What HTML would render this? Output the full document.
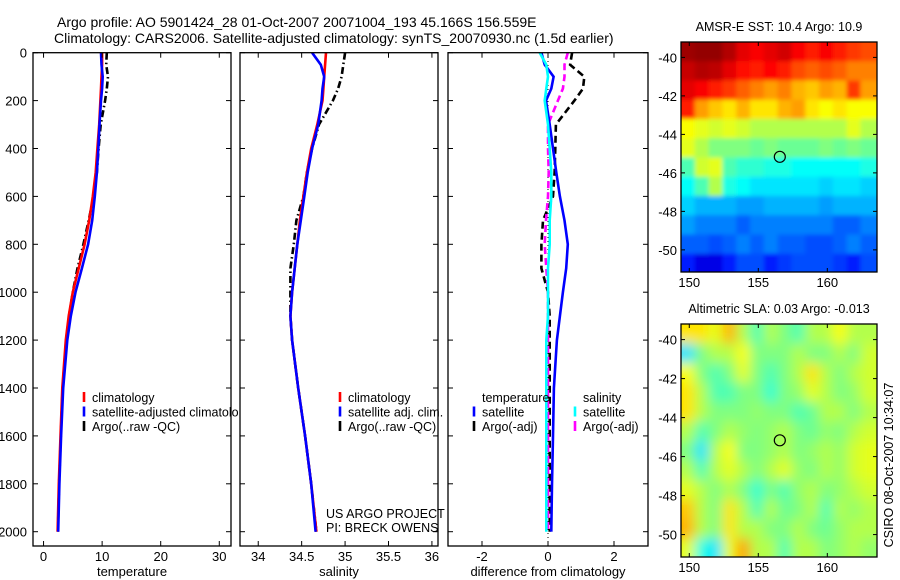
<!DOCTYPE html>
<html><head><meta charset="utf-8"><style>
body{margin:0;background:#fff}
svg{display:block;font-family:"Liberation Sans",sans-serif}
</style></head><body>
<svg id="fig" width="900" height="580" viewBox="0 0 900 580">
<defs>
<clipPath id="c1"><rect x="33" y="53" width="198" height="493"/></clipPath>
<clipPath id="c2"><rect x="240" y="53" width="198" height="493"/></clipPath>
<clipPath id="c3"><rect x="448" y="53" width="200" height="493"/></clipPath>
<clipPath id="m1"><rect x="681" y="42" width="196" height="230"/></clipPath>
<clipPath id="m2"><rect x="681" y="324" width="196" height="233"/></clipPath>
<clipPath id="leg1"><rect x="0" y="0" width="239" height="580"/></clipPath>
<filter id="bl" x="-10%" y="-10%" width="120%" height="120%"><feGaussianBlur stdDeviation="6"/></filter>
<filter id="bl2"><feGaussianBlur stdDeviation="2"/></filter>
</defs>
<text x="57" y="27" font-size="14">Argo profile: AO 5901424_28 01-Oct-2007 20071004_193 45.166S 156.559E</text>
<text x="54" y="43" font-size="14">Climatology: CARS2006. Satellite-adjusted climatology: synTS_20070930.nc (1.5d earlier)</text>
<g id="g"></g>
</svg>
<script>
// ---- data ----
const depths = [0,50,100,150,200,300,400,500,600,700,800,900,1000,1100,1200,1400,1600,1800,2000];
const tClim  = [10.0,10.0,9.9,9.8,9.7,9.5,9.2,8.9,8.4,7.8,7.0,6.0,5.0,4.3,3.8,3.2,2.9,2.6,2.4];
const tSat   = [9.8,9.9,10.1,10.0,9.8,9.55,9.35,9.1,8.75,8.3,7.6,6.55,5.45,4.65,4.05,3.35,3.0,2.7,2.5];
const tArgo  = [10.8,10.7,11.0,10.8,10.5,9.75,9.4,9.1,8.55,7.7,6.8,5.8,5.0,4.35,3.85,3.25,2.95,2.65,2.45];
const sClim  = [34.78,34.77,34.76,34.75,34.74,34.68,34.61,34.56,34.52,34.48,34.45,34.42,34.39,34.37,34.39,34.46,34.54,34.61,34.67];
const sSat   = [34.62,34.72,34.76,34.74,34.73,34.69,34.62,34.57,34.53,34.49,34.45,34.42,34.39,34.37,34.39,34.46,34.54,34.61,34.66];
const sArgo  = [35.0,34.98,34.96,34.92,34.86,34.70,34.62,34.56,34.52,34.44,34.41,34.37,34.37,34.37,34.39,34.46,34.54,34.61,34.67];
const dTsat  = [-0.2,-0.1,0.17,0.1,-0.06,0.05,0.15,0.25,0.36,0.5,0.6,0.55,0.45,0.36,0.27,0.18,0.15,0.12,0.1];
const dTargo = [0.73,0.67,1.1,1.06,0.8,0.24,0.22,0.2,0.15,-0.15,-0.2,-0.2,0.0,0.05,0.05,0.05,0.05,0.05,0.05];
const dSsat  = [-0.25,-0.05,0.0,-0.05,-0.1,0.0,0.05,0.1,0.1,0.05,0.05,0.0,0.0,0.0,-0.05,-0.05,-0.05,-0.05,-0.05];
const dSargo = [0.6,0.5,0.5,0.45,0.3,0.0,0.0,0.02,0.0,-0.06,-0.1,-0.05,0.0,0.0,0.0,0.0,0.0,0.0,0.0];
const depthTicks = [0,200,400,600,800,1000,1200,1400,1600,1800,2000];
const tTicks = [0,10,20,30];
const sTicks = [34,34.5,35,35.5,36];
const dTicks = [-2,0,2];
const sstLons = [149.9,150.9,151.9,152.9,153.9,154.9,155.9,156.9,157.9,158.9,159.9,160.9,161.9,162.9];
const sstLats = [-39.7,-40.7,-41.7,-42.7,-43.7,-44.7,-45.7,-46.7,-47.7,-48.7,-49.7,-50.7];
const sst = [
[.97,.98,.98,.95,.9,.88,.9,.92,.88,.85,.88,.85,.82,.8],
[.93,.95,.94,.9,.86,.85,.87,.85,.8,.78,.8,.78,.75,.75],
[.9,.88,.85,.82,.78,.75,.72,.75,.7,.68,.72,.7,.82,.72],
[.85,.72,.68,.65,.7,.65,.65,.7,.72,.65,.62,.65,.62,.62],
[.62,.6,.58,.6,.58,.55,.55,.55,.55,.55,.55,.55,.6,.55],
[.6,.55,.5,.5,.5,.48,.5,.48,.48,.48,.5,.48,.5,.48],
[.45,.58,.6,.45,.42,.42,.4,.4,.38,.38,.38,.38,.38,.4],
[.38,.45,.55,.4,.38,.35,.35,.35,.35,.35,.33,.35,.35,.33],
[.33,.3,.3,.3,.28,.28,.3,.3,.3,.3,.28,.3,.3,.3],
[.28,.25,.25,.25,.22,.25,.25,.25,.25,.25,.25,.22,.22,.25],
[.22,.22,.2,.22,.25,.22,.25,.22,.22,.2,.2,.22,.25,.22],
[.15,.1,.1,.15,.2,.2,.15,.18,.2,.2,.2,.18,.15,.2]];
const sla = [
[.65,.65,.6,.7,.55,.45,.55,.5,.45,.55,.55,.62,.55,.55],
[.35,.5,.55,.55,.62,.5,.5,.5,.55,.5,.5,.55,.5,.58],
[.62,.5,.45,.5,.6,.5,.45,.5,.55,.65,.55,.5,.55,.58],
[.65,.55,.45,.45,.5,.5,.42,.5,.52,.6,.55,.5,.52,.58],
[.65,.55,.5,.5,.5,.52,.5,.5,.45,.48,.55,.55,.5,.55],
[.55,.45,.5,.55,.52,.5,.52,.55,.5,.48,.52,.5,.55,.58],
[.5,.35,.55,.62,.5,.5,.52,.55,.5,.52,.55,.52,.58,.6],
[.55,.45,.55,.6,.55,.5,.55,.6,.52,.5,.55,.52,.58,.6],
[.6,.55,.5,.55,.5,.42,.5,.45,.52,.55,.5,.52,.55,.58],
[.68,.55,.5,.65,.55,.45,.55,.48,.5,.55,.45,.55,.52,.55],
[.7,.55,.5,.65,.55,.55,.5,.5,.55,.5,.48,.52,.55,.55],
[.6,.4,.35,.6,.72,.55,.55,.45,.55,.55,.5,.52,.55,.52]];
const latTicks = [-40,-42,-44,-46,-48,-50];
const lonTicks = [150,155,160];
const floatLon = 156.559, floatLat = -45.166;

// ---- helpers ----
const NS="http://www.w3.org/2000/svg";
const G=document.getElementById('g');
function el(tag,attrs,parent,txt){const e=document.createElementNS(NS,tag);for(const k in attrs)e.setAttribute(k,attrs[k]);if(txt!==undefined)e.textContent=txt;(parent||G).appendChild(e);return e;}
const yD=d=>52.7+d*0.2395;
const panels=[
 {x0:33,x1:231,lo:-1.8,hi:32,ticks:tTicks,label:'temperature',clip:'c1'},
 {x0:240,x1:438,lo:33.79,hi:36.07,ticks:sTicks,label:'salinity',clip:'c2'},
 {x0:448,x1:648,lo:-3.03,hi:3.03,ticks:dTicks,label:'difference from climatology',clip:'c3'}];
function xf(p){return v=>p.x0+(v-p.lo)/(p.hi-p.lo)*(p.x1-p.x0);}
function jet(v){v=Math.max(0,Math.min(1,v));const f=t=>Math.max(0,Math.min(1,1.5-Math.abs(4*v-t)));return `rgb(${Math.round(255*f(3))},${Math.round(255*f(2))},${Math.round(255*f(1))})`;}

panels.forEach((p,i)=>{
  const X=xf(p);
  const top=52.7,bot=546;
  const ax=el('g',{},G);
  
  
  p.g=el('g',{'clip-path':'url(#'+p.clip+')'},ax);
  p.ax=ax;
  el('rect',{x:p.x0,y:top,width:p.x1-p.x0,height:bot-top,fill:'none',stroke:'#000','stroke-width':1.3},ax);
  depthTicks.forEach(d=>{
    const y=yD(d);
    el('line',{x1:p.x0,x2:p.x0+5,y1:y,y2:y,stroke:'#000'},ax);
    el('line',{x1:p.x1-5,x2:p.x1,y1:y,y2:y,stroke:'#000'},ax);
    if(i===0){const t=el('text',{x:27,y:y+5,'font-size':13,'text-anchor':'end'},ax,String(d));
      }
  });
  p.ticks.forEach(v=>{
    const x=X(v);
    el('line',{x1:x,x2:x,y1:top,y2:top+5,stroke:'#000'},ax);
    el('line',{x1:x,x2:x,y1:bot-5,y2:bot,stroke:'#000'},ax);
    const t=el('text',{x:x,y:561,'font-size':13,'text-anchor':'middle'},ax,String(v));
    
  });
  const lab=el('text',{x:(p.x0+p.x1)/2,y:576,'font-size':13,'text-anchor':'middle'},ax,p.label);
  
});
function line(p,vals,color,dash,name){
  const X=xf(p);
  const pts=vals.map((v,k)=>X(v).toFixed(1)+','+yD(depths[k]).toFixed(1)).join(' ');
  const a={points:pts,fill:'none',stroke:color,'stroke-width':2.6};
  if(dash)a['stroke-dasharray']=dash;
  const l=el('polyline',a,p.g);
  
}
const DD='7,3,1.5,3';
line(panels[0],tArgo,'#000',DD,'temp-argo-line');
line(panels[0],tClim,'#f00',null,'temp-climatology-line');
line(panels[0],tSat,'#00f',null,'temp-satellite-line');
line(panels[1],sArgo,'#000',DD,'sal-argo-line');
line(panels[1],sClim,'#f00',null,'sal-climatology-line');
line(panels[1],sSat,'#00f',null,'sal-satellite-line');
{const X=xf(panels[2]);const z=el('line',{x1:X(0),x2:X(0),y1:53,y2:546,stroke:'#000','stroke-dasharray':'1,3'},panels[2].g);
 }
line(panels[2],dTargo,'#000','7,4','diff-temp-argo-line');
line(panels[2],dSargo,'#f0f','7,4','diff-sal-argo-line');
line(panels[2],dTsat,'#00f',null,'diff-temp-satellite-line');
line(panels[2],dSsat,'#0ff',null,'diff-sal-satellite-line');

function legend(items,mx,y0,parent,name){
  const g=el('g',{},parent);
  
  items.forEach((it,k)=>{
    const y=y0+k*14.5;
    if(it[0])el('line',{x1:mx,x2:mx,y1:y-10,y2:y,stroke:it[0],'stroke-width':2.6},g);
    el('text',{x:mx+8,y:y,'font-size':12.5},g,it[1]);
  });
}
const lg1=el('g',{'clip-path':'url(#leg1)'},G);
legend([['#f00','climatology'],['#00f','satellite-adjusted climatology'],['#000','Argo(..raw -QC)']],84,402,lg1,'temp-legend');
legend([['#f00','climatology'],['#00f','satellite adj. clim.'],['#000','Argo(..raw -QC)']],340,402,G,'sal-legend');
legend([[null,'temperature'],['#00f','satellite'],['#000','Argo(-adj)']],474,402,G,'diff-temp-legend');
legend([[null,'salinity'],['#0ff','satellite'],['#f0f','Argo(-adj)']],575,402,G,'diff-sal-legend');
el('text',{x:326,y:518,'font-size':12.5},G,'US ARGO PROJECT');
el('text',{x:326,y:532,'font-size':12.5},G,'PI: BRECK OWENS');

// ---- maps ----
function map(mat,top,bot,clip,title,name,blur){
  const x0=681,x1=877,lonLo=149.4,lonHi=163.6,latHi=-39.2,latLo=-51.15;
  const LX=v=>x0+(v-lonLo)/(lonHi-lonLo)*(x1-x0);
  const LY=v=>top+(latHi-v)/(latHi-latLo)*(bot-top);
  const g=el('g',{},G);
  
  const cg=el('g',{'clip-path':'url(#'+clip+')'},g);
  const hg=el('g',{filter:'url(#'+blur+')'},cg);
  mat.forEach((row,r)=>row.forEach((v,c)=>{
    const cx=LX(sstLons[c]),cy=LY(sstLats[r]);
    const w=(x1-x0)/(lonHi-lonLo),h=(bot-top)/(latHi-latLo);
    const rc=el('rect',{x:cx-w/2-(c===0?20:0),y:cy-h/2-(r===0?20:0),width:w+1+(c===0||c===row.length-1?20:0),height:h+1+(r===0||r===mat.length-1?20:0),fill:jet(v)},hg);
    
    
  }));
  el('rect',{x:x0,y:top,width:x1-x0,height:bot-top,fill:'none',stroke:'#000','stroke-width':1.3},g);
  latTicks.forEach(v=>{const y=LY(v);
    el('line',{x1:x0,x2:x0+4,y1:y,y2:y,stroke:'#000'},g);el('line',{x1:x1-4,x2:x1,y1:y,y2:y,stroke:'#000'},g);
    el('text',{x:x0-4,y:y+5,'font-size':13,'text-anchor':'end'},g,String(v));});
  lonTicks.forEach(v=>{const x=LX(v);
    el('line',{x1:x,x2:x,y1:top,y2:top+4,stroke:'#000'},g);el('line',{x1:x,x2:x,y1:bot-4,y2:bot,stroke:'#000'},g);
    el('text',{x:x,y:bot+15,'font-size':13,'text-anchor':'middle'},g,String(v));});
  const c=el('circle',{cx:LX(floatLon),cy:LY(floatLat),r:5.5,fill:'none',stroke:'#000','stroke-width':1.2},g);
  
  el('text',{x:(x0+x1)/2,y:top-11,'font-size':12.5,'text-anchor':'middle'},g,title);
}
map(sst,42,272,'m1','AMSR-E SST: 10.4 Argo: 10.9','sst-map','bl2');
map(sla,324,557,'m2','Altimetric SLA: 0.03 Argo: -0.013','sla-map','bl');
const cs=el('text',{x:0,y:0,'font-size':12.5,'text-anchor':'middle',transform:'translate(893,465) rotate(-90)'},G,'CSIRO 08-Oct-2007 10:34:07');

</script>
</body></html>
